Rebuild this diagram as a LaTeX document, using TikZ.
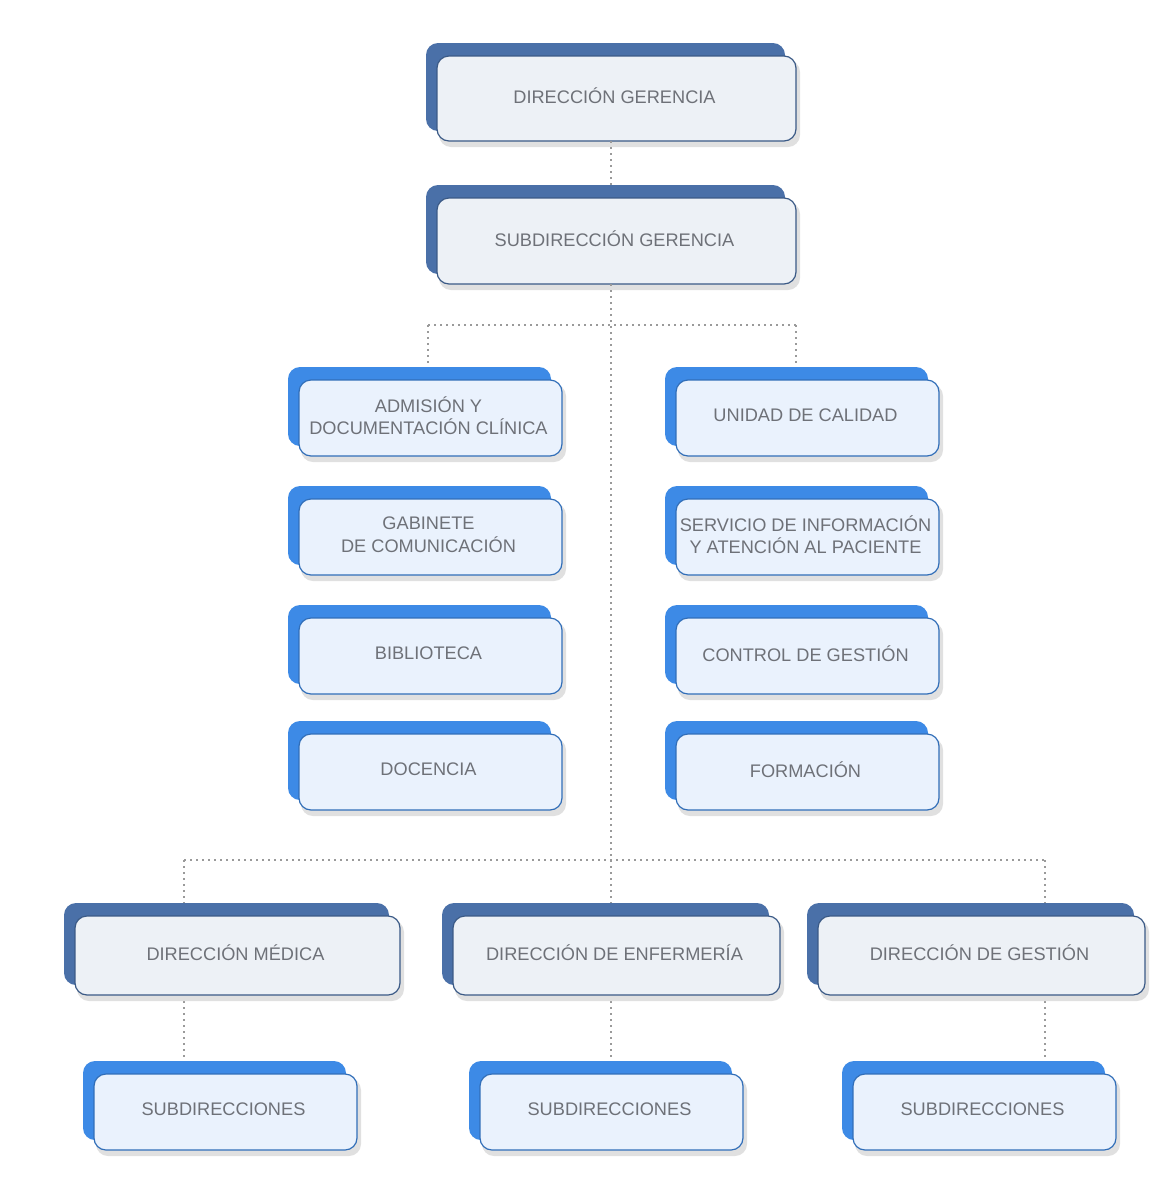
\documentclass[tikz,border=0pt]{standalone}
\usepackage{fontspec}
\setmainfont{Liberation Sans}
\definecolor{dkb}{HTML}{4A70A8}
\definecolor{brb}{HTML}{3D8AE6}
\definecolor{frA}{HTML}{EDF1F6}
\definecolor{frB}{HTML}{EAF2FD}
\definecolor{txt}{HTML}{6E7178}
\definecolor{dot}{HTML}{9A9A9A}
\begin{document}
\begin{tikzpicture}[x=1pt,y=-1pt,
  back/.style={rounded corners=12pt},
  front/.style={rounded corners=12pt,line width=1.2pt},
  lbl/.style={text=txt,font=\fontsize{18.2}{22.5}\selectfont,align=center},
  conn/.style={dot,line width=2.2pt,dash pattern=on 2pt off 4pt}]
\useasboundingbox (0,0) rectangle (1169,1200);
\fill[white] (0,0) rectangle (1169,1200);
\newcommand{\obox}[8]{% name, x1,y1,x2,y2, backcolor, frontcolor, text
  \fill[back,#6] (#2-11,#3-13) rectangle (#4-11,#5-10);
  \fill[black!12,rounded corners=12pt] (#2+2,#3+4) rectangle (#4+4,#5+6);
  \draw[front,#6!80!black,fill=#7] (#2,#3) rectangle (#4,#5);
  \node[lbl] (#1) at ({(#2+#4)/2-2},{(#3+#5)/2-2.5}) {#8};
}
\coordinate (t1) at (611,325); \coordinate (t2) at (611,860);
\coordinate (l1) at (428,325); \coordinate (r1) at (796,325);
\coordinate (l2) at (184,860); \coordinate (r2) at (1045,860);
\obox{dg}{437}{56}{796}{141}{dkb}{frA}{DIRECCIÓN GERENCIA}
\obox{sg}{437}{198}{796}{284}{dkb}{frA}{SUBDIRECCIÓN GERENCIA}
\draw[conn] (611,141) -- (611,185);
\draw[conn] (611,284) -- (t2);
\draw[conn] (l1) -- (r1);
\draw[conn] (l1) -- (428,368);
\draw[conn] (r1) -- (796,368);
\draw[conn] (l2) -- (r2);
\draw[conn] (l2) -- (184,903);
\draw[conn] (r2) -- (1045,903);
\draw[conn] (t2) -- (611,903);
\draw[conn] (184,995) -- (184,1062);
\draw[conn] (611,995) -- (611,1062);
\draw[conn] (1045,995) -- (1045,1062);
\obox{a1}{299}{380}{562}{456}{brb}{frB}{ADMISIÓN Y\\DOCUMENTACIÓN CLÍNICA}
\obox{a2}{299}{499}{562}{575}{brb}{frB}{GABINETE\\DE COMUNICACIÓN}
\obox{a3}{299}{618}{562}{694}{brb}{frB}{BIBLIOTECA}
\obox{a4}{299}{734}{562}{810}{brb}{frB}{DOCENCIA}
\obox{b1}{676}{380}{939}{456}{brb}{frB}{UNIDAD DE CALIDAD}
\obox{b2}{676}{499}{939}{575}{brb}{frB}{SERVICIO DE INFORMACIÓN\\Y ATENCIÓN AL PACIENTE}
\obox{b3}{676}{618}{939}{694}{brb}{frB}{CONTROL DE GESTIÓN}
\obox{b4}{676}{734}{939}{810}{brb}{frB}{FORMACIÓN}
\obox{d1}{75}{916}{400}{995}{dkb}{frA}{DIRECCIÓN MÉDICA}
\obox{d2}{453}{916}{780}{995}{dkb}{frA}{DIRECCIÓN DE ENFERMERÍA}
\obox{d3}{818}{916}{1145}{995}{dkb}{frA}{DIRECCIÓN DE GESTIÓN}
\obox{s1}{94}{1074}{357}{1150}{brb}{frB}{SUBDIRECCIONES}
\obox{s2}{480}{1074}{743}{1150}{brb}{frB}{SUBDIRECCIONES}
\obox{s3}{853}{1074}{1116}{1150}{brb}{frB}{SUBDIRECCIONES}
\end{tikzpicture}
\end{document}
